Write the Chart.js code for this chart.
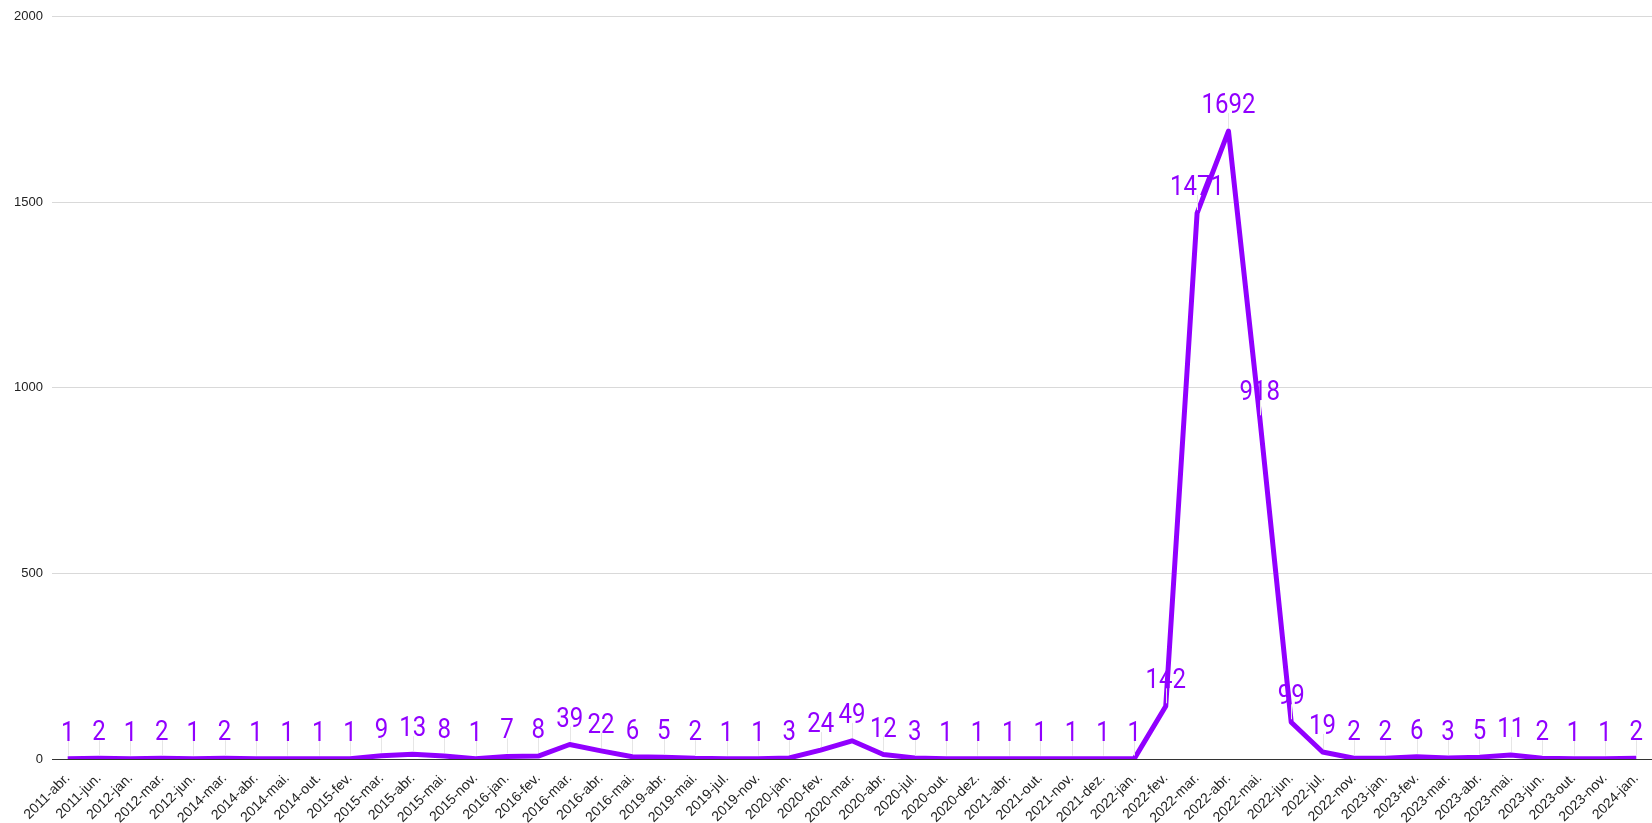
<!DOCTYPE html>
<html>
<head>
<meta charset="utf-8">
<script src="https://cdn.jsdelivr.net/npm/chart.js@4"></script>
<style>
  body { margin: 0; background: #fff; }
  #wrap { width: 1652px; height: 823px; }
</style>
</head>
<body>
<div id="wrap"><canvas id="lineChart"></canvas></div>
<script>
const months = [
    "2011-abr.", "2011-jun.", "2012-jan.", "2012-mar.", "2012-jun.",
    "2014-mar.", "2014-abr.", "2014-mai.", "2014-out.",
    "2015-fev.", "2015-mar.", "2015-abr.", "2015-mai.", "2015-nov.",
    "2016-jan.", "2016-fev.", "2016-mar.", "2016-abr.", "2016-mai.",
    "2019-abr.", "2019-mai.", "2019-jul.", "2019-nov.",
    "2020-jan.", "2020-fev.", "2020-mar.", "2020-abr.", "2020-jul.", "2020-out.", "2020-dez.",
    "2021-abr.", "2021-out.", "2021-nov.", "2021-dez.",
    "2022-jan.", "2022-fev.", "2022-mar.", "2022-abr.", "2022-mai.", "2022-jun.", "2022-jul.", "2022-nov.",
    "2023-jan.", "2023-fev.", "2023-mar.", "2023-abr.", "2023-mai.", "2023-jun.", "2023-out.", "2023-nov.",
    "2024-jan."
];

const counts = [
    1, 2, 1, 2, 1,
    2, 1, 1, 1,
    1, 9, 13, 8, 1,
    7, 8, 39, 22, 6,
    5, 2, 1, 1,
    3, 24, 49, 12, 3, 1, 1,
    1, 1, 1, 1,
    1, 142, 1471, 1692, 918, 99, 19, 2,
    2, 6, 3, 5, 11, 2, 1, 1,
    2
];

const yTicks = [0, 500, 1000, 1500, 2000];

const purple = "#9100ff";

// rótulos em cima de cada ponto, com a pequena haste cinza
const pointLabels = {
    id: "pointLabels",
    afterDatasetsDraw(chart) {
        const ctx = chart.ctx;
        const meta = chart.getDatasetMeta(0);
        ctx.save();
        meta.data.forEach((pt, i) => {
            const labelBottom = pt.y - 18;

            ctx.strokeStyle = "#e6e6e6";
            ctx.lineWidth = 1;
            ctx.beginPath();
            ctx.moveTo(Math.round(pt.x) + 0.5, pt.y - 3);
            ctx.lineTo(Math.round(pt.x) + 0.5, labelBottom);
            ctx.stroke();

            ctx.save();
            ctx.translate(pt.x, labelBottom);
            ctx.scale(1, 1.12);
            ctx.fillStyle = purple;
            ctx.font = "24px Roboto";
            ctx.textAlign = "center";
            ctx.textBaseline = "alphabetic";
            ctx.fillText(String(counts[i]), 0, 0);
            ctx.restore();
        });
        ctx.restore();
    }
};

new Chart(document.getElementById("lineChart"), {
    type: "line",
    data: {
        labels: months,
        datasets: [{
            data: counts,
            borderColor: purple,
            backgroundColor: purple,
            borderWidth: 5,
            borderJoinStyle: "round",
            tension: 0,
            pointRadius: 0,
            pointHoverRadius: 0
        }]
    },
    options: {
        responsive: true,
        maintainAspectRatio: false,
        animation: false,
        layout: { padding: { top: 16, right: 0, left: 0, bottom: 0 } },
        plugins: {
            legend: { display: false },
            tooltip: { enabled: false }
        },
        scales: {
            x: {
                offset: true,
                grid: { display: false },
                border: { display: false },
                ticks: {
                    autoSkip: false,
                    maxRotation: 45,
                    minRotation: 45,
                    padding: 3,
                    color: "#222",
                    font: { family: "Liberation Sans", size: 14 }
                },
                afterFit(scale) { scale.height = 64; }
            },
            y: {
                min: 0,
                max: 2000,
                afterBuildTicks(scale) {
                    scale.ticks = yTicks.map(v => ({ value: v }));
                },
                grid: {
                    drawTicks: false,
                    color: ctx => ctx.tick && ctx.tick.value === 0 ? "#333" : "#d9d9d9",
                    lineWidth: 1
                },
                border: { display: false },
                ticks: {
                    padding: 9,
                    color: "#222",
                    font: { family: "Liberation Sans", size: 13 },
                    callback: v => String(v)
                },
                afterFit(scale) { scale.width = 52; }
            }
        }
    },
    plugins: [pointLabels]
});
</script>
</body>
</html>
